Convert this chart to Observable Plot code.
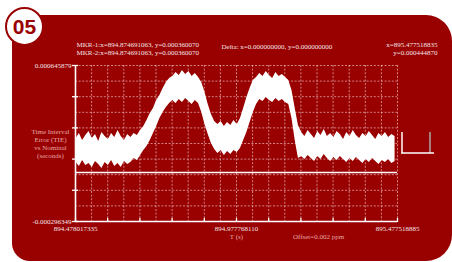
<!DOCTYPE html>
<html><head><meta charset="utf-8">
<script src="https://cdn.jsdelivr.net/npm/d3@7"></script>
<script src="https://cdn.jsdelivr.net/npm/@observablehq/plot@0.6"></script>
<style>
html,body{margin:0;padding:0;background:#fff;}
#wrap{position:relative;width:452px;height:262px;overflow:hidden;}
#panel{position:absolute;left:12px;top:15px;width:440px;height:246px;background:#990000;border-radius:0 26px 26px 18px;}
#badge{position:absolute;left:5px;top:7px;width:35px;height:35px;border:2.5px solid #990000;border-radius:50%;background:#fff;color:#990000;font:bold 21px "Liberation Sans",Arial,sans-serif;display:flex;align-items:center;justify-content:center;}
#chart{position:absolute;left:0;top:0;}
</style></head><body>
<div id="wrap"><div id="panel"></div><div id="badge">05</div><div id="chart"></div></div>
<script>
// ---- data (TIE in microseconds, time in seconds) ----
const xDomain = [894.478017335, 895.477518885];
const yDomain = [-296.349, 645.879];
const xTickValues = [894.478017335, 894.977768110, 895.477518885];
const xTickLabels = ["894.478017335", "894.977768110", "895.477518885"];
const yTickValues = [645.879, -296.349];
const yTickLabels = ["0.000645879", "-0.000296349"];
const headerLeft = ["MKR-1:x=894.874691063, y=0.000360070", "MKR-2:x=894.874691063, y=0.000360070"];
const headerMid = ["Delta: x=0.000000000, y=0.000000000"];
const headerRight = ["x=895.477518835", "y=0.000444870"];
const yTitle = "Time Interval\nError (TIE)\nvs Nominal\n(seconds)";
const xTitle = "T (s)";
const offsetNote = "Offset=0.002 ppm";

const times = [
  894.48,894.49,894.50,894.51,894.52,894.53,894.54,894.55,894.56,894.57,
  894.58,894.59,894.60,894.61,894.62,894.63,894.64,894.65,894.66,894.67,
  894.68,894.69,894.70,894.71,894.72,894.73,894.74,894.75,894.76,894.77,
  894.78,894.79,894.80,894.81,894.82,894.83,894.84,894.85,894.86,894.87,
  894.88,894.89,894.90,894.91,894.92,894.93,894.94,894.95,894.96,894.97,
  894.98,894.99,895.00,895.01,895.02,895.03,895.04,895.05,895.06,895.07,
  895.08,895.09,895.10,895.11,895.12,895.13,895.14,895.15,895.16,895.17,
  895.18,895.19,895.20,895.21,895.22,895.23,895.24,895.25,895.26,895.27,
  895.28,895.29,895.30,895.31,895.32,895.33,895.34,895.35,895.36,895.37,
  895.38,895.39,895.40,895.41,895.42,895.43,895.44,895.45,895.46,895.47
];
const tieUpper = [
  205,235,193,223,247,205,229,187,241,217,
  199,235,211,253,217,193,229,211,235,223,
  253,277,314,356,386,434,465,507,543,567,
  579,604,585,616,592,610,579,598,573,543,
  483,410,350,308,290,308,277,302,283,314,
  290,326,386,453,507,555,573,598,579,610,
  585,567,604,579,592,573,555,495,386,283,
  241,217,253,229,205,247,223,259,217,235,
  211,247,229,199,241,217,253,223,205,235,
  217,247,223,199,235,217,241,211,229,217
];
const tieLower = [
  60,36,72,42,54,30,66,48,24,60,
  42,72,36,54,30,66,48,60,84,72,
  102,133,157,193,235,277,326,362,392,416,
  434,416,441,422,447,428,410,434,416,362,
  290,229,175,139,114,133,102,127,108,133,
  120,145,193,241,302,362,410,441,428,453,
  434,422,447,428,441,422,410,326,193,84,
  96,78,102,84,66,96,78,108,84,66,
  90,72,96,78,60,84,66,90,72,54,
  78,60,84,66,48,72,60,78,54,66
];

// ---- tables ----
const band = times.map((t, i) => ({t, hi: tieUpper[i], lo: tieLower[i]}));
const xTicks = xTickValues.map((v, i) => ({v, label: xTickLabels[i]}));
const yTicks = yTickValues.map((v, i) => ({v, label: yTickLabels[i]}));
const xGrid = d3.range(21).map(i => xDomain[0] + i * (xDomain[1] - xDomain[0]) / 20);
const yGrid = d3.range(11).map(i => yDomain[0] + i * (yDomain[1] - yDomain[0]) / 10);
const xMajor = xGrid.filter((d, i) => i % 2 === 0);
const yMajor = yGrid.filter((d, i) => i % 2 === 0);

const gridStyle = {stroke: "#f0c0c0", strokeWidth: 0.8, strokeDasharray: "2,1.6", strokeOpacity: 0.85};
const txt = "#f3e6e6";
const pink = "#e6a9a9";

const plot = Plot.plot({
  width: 452, height: 262,
  marginLeft: 75, marginRight: 55, marginTop: 65, marginBottom: 41,
  x: {domain: xDomain},
  y: {domain: yDomain},
  style: {background: "transparent", color: "white", fontFamily: "'Liberation Serif', 'Times New Roman', serif", fontSize: "7px"},
  marks: [
    Plot.ruleX(xGrid, gridStyle),
    Plot.ruleY(yGrid, gridStyle),
    Plot.areaY(band, {x: "t", y1: "lo", y2: "hi", fill: "white"}),
    Plot.ruleY([0], {stroke: "white", strokeWidth: 1.6}),
    Plot.ruleX([xDomain[0]], {stroke: "white", strokeWidth: 1.6}),
    Plot.ruleY([yDomain[0]], {stroke: "white", strokeWidth: 1.6}),
    Plot.axisY({ticks: yMajor, tickSize: 6, dx: 3, tickFormat: () => "", stroke: "white", strokeWidth: 1.3}),
    Plot.axisX({ticks: xMajor, tickSize: 4, dy: -3, tickFormat: () => "", stroke: "white", strokeWidth: 1.3}),
    Plot.text(xTicks, {x: "v", text: "label", frameAnchor: "bottom", dy: 9, fill: txt}),
    Plot.text(yTicks, {y: "v", text: "label", frameAnchor: "left", dx: -4, textAnchor: "end", fill: txt}),
    Plot.text([yTitle], {text: d => d, frameAnchor: "left", dx: -25, textAnchor: "middle", lineHeight: 1.1, fill: pink}),
    Plot.text([xTitle], {text: d => d, frameAnchor: "bottom", dy: 17, fill: pink}),
    Plot.text([offsetNote], {text: d => d, frameAnchor: "bottom-right", dx: -79, dy: 17, textAnchor: "middle", fill: pink}),
    Plot.text(headerLeft, {text: d => d, frameAnchor: "top-left", dx: 1, dy: -23, textAnchor: "start", fill: txt, filter: (d, i) => i === 0}),
    Plot.text(headerLeft, {text: d => d, frameAnchor: "top-left", dx: 1, dy: -15, textAnchor: "start", fill: txt, filter: (d, i) => i === 1}),
    Plot.text(headerMid, {text: d => d, frameAnchor: "top-left", dx: 146, dy: -21, textAnchor: "start", fill: txt}),
    Plot.text(headerRight, {text: d => d, frameAnchor: "top-right", dx: 40, dy: -23, textAnchor: "end", fill: txt, filter: (d, i) => i === 0}),
    Plot.text(headerRight, {text: d => d, frameAnchor: "top-right", dx: 40, dy: -15, textAnchor: "end", fill: txt, filter: (d, i) => i === 1})
  ]
});
document.getElementById("chart").appendChild(plot);

// small scope trigger glyph at the right of the panel (decoration)
const svg = d3.select(plot);
const g = svg.append("g");
g.append("line").attr("x1", 430).attr("x2", 430).attr("y1", 132).attr("y2", 153).attr("stroke", "#a8a8a8").attr("stroke-width", 1.5);
g.append("line").attr("x1", 402).attr("x2", 402).attr("y1", 132).attr("y2", 153.5).attr("stroke", "white").attr("stroke-width", 1.5);
g.append("line").attr("x1", 401.25).attr("x2", 434).attr("y1", 153).attr("y2", 153).attr("stroke", "white").attr("stroke-width", 1.5);
</script>
</body></html>
